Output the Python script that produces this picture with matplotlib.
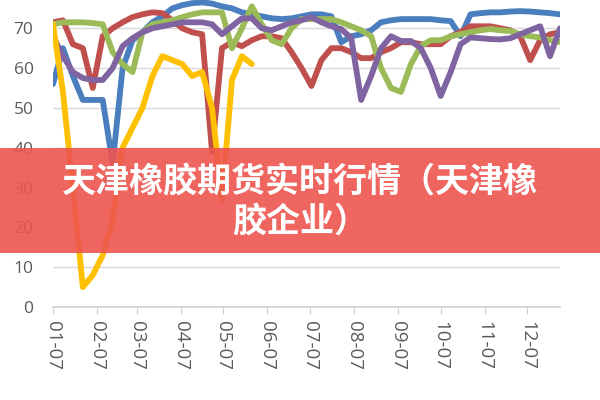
import matplotlib.pyplot as plt
from matplotlib.patches import Rectangle
import pandas as pd

plt.rcParams['font.family'] = ['Open Sans', 'DejaVu Sans']

# weekly dates, ticks on the 7th of each month
dates = pd.date_range('2021-01-07', periods=52, freq='7D')
month_ticks = pd.date_range('2021-01-01', periods=12, freq='MS') + pd.Timedelta(days=6)
tick_labels = [d.strftime('%m-%d') for d in month_ticks]

blue = [56, 65, 58, 52, 52, 52, 36, 60, 67, 69, 71.5, 73, 75, 75.8, 76.3, 76.5,
        76.2, 75.5, 75, 74, 73.5, 73, 72.5, 72.3, 72.5, 73, 73.5, 73.5, 73, 66.5,
        68, 68.5, 69.5, 71.5, 72, 72.3, 72.3, 72.3, 72.3, 72, 71.8, 68, 73.5, 73.8,
        74, 74, 74.2, 74.3, 74.2, 74, 73.8, 73.5]
red = [71.5, 72, 66, 65, 55, 68, 70, 71.5, 72.8, 73.5, 74, 73.8, 72, 70, 69,
       68.5, 39, 65, 66.5, 65.5, 67, 68, 68, 67.5, 64, 60, 55.5, 62, 65, 65, 64,
       62.5, 62.5, 64, 65, 66.5, 66.5, 66, 66, 66, 68, 69, 70.5, 70.5, 70.5, 70,
       69.5, 68, 62, 67, 68.5, 69]
green = [71, 71.5, 71.5, 71.5, 71.3, 71, 64, 61, 59, 69, 71, 71.5, 72, 72.8,
         73.5, 74, 74, 74, 65, 70, 75.5, 71, 67, 66, 70, 72.3, 72.3, 72.3, 72.3,
         71.5, 70.5, 69.5, 68, 60, 55, 54, 61, 65.5, 67, 67, 68, 68.5, 69, 69.5,
         69.8, 69.5, 69.3, 68.5, 68, 67.7, 67, 66.5]
purple = [68, 63, 59, 57.5, 57, 57, 60, 65.5, 67.5, 69, 70, 70.5, 71, 71.5, 71.5,
          71.5, 71, 68.5, 70.5, 72.5, 72.5, 70, 69.5, 70.5, 71.5, 72, 72.8, 71.5,
          70.5, 69.8, 67.5, 52, 58, 65, 68, 66.8, 66.8, 65, 60, 53, 59, 66, 67.7,
          67.5, 67.3, 67.2, 67.5, 68.5, 69.5, 70.5, 63, 70]
yellow = [71, 54, 30, 5, 8, 13, 22, 40, 45, 50, 58, 63, 62, 61, 58, 59, 50, 27,
          57, 63, 61]

series = [
    (blue, '#4a7ebf'),
    (red, '#c0504d'),
    (green, '#9bbb59'),
    (purple, '#8064a2'),
    (yellow, '#ffc000'),
]

fig = plt.figure(figsize=(6, 4), dpi=100)
ax = fig.add_axes([53 / 600, 1 - 307 / 400, 507 / 600, 307 / 400])

for values, color in series:
    ax.plot(dates[:len(values)], values, color=color, lw=4.2,
            solid_joinstyle='round', solid_capstyle='round', zorder=3)

ax.set_ylim(0, 77.1)
ax.set_xlim(dates[0], dates[-1])
ax.set_yticks(range(0, 80, 10))
ax.set_xticks(month_ticks)
ax.set_xticklabels(tick_labels, rotation=-90, va='top', ha='center')
ax.grid(axis='y', color='#d9d9d9', lw=1)
ax.set_axisbelow(True)
for side in ['top', 'right', 'left']:
    ax.spines[side].set_visible(False)
ax.spines['bottom'].set_color('#d0d0d0')
ax.spines['bottom'].set_linewidth(1.2)
ax.tick_params(axis='y', length=0, pad=14, labelsize=12.5, labelcolor='#595959')
ax.tick_params(axis='x', length=5, color='#d0d0d0', pad=5, labelsize=13.5,
               labelcolor='#595959')
ax.patch.set_alpha(0)

# red title banner across the chart
fig.patches.append(Rectangle((0, 1 - 253 / 400), 1, 105 / 400,
                             transform=fig.transFigure, facecolor='#ee5550',
                             alpha=0.9, edgecolor='none', zorder=5))
fig.text(0.5, 1 - 202 / 400, '天津橡胶期货实时行情（天津橡\n胶企业）',
         ha='center', va='center', color='white', fontsize=24.5,
         fontweight='bold', linespacing=1.2, zorder=6,
         family=['Noto Sans CJK SC', 'DejaVu Sans'])

fig.savefig('out.png', dpi=100)
